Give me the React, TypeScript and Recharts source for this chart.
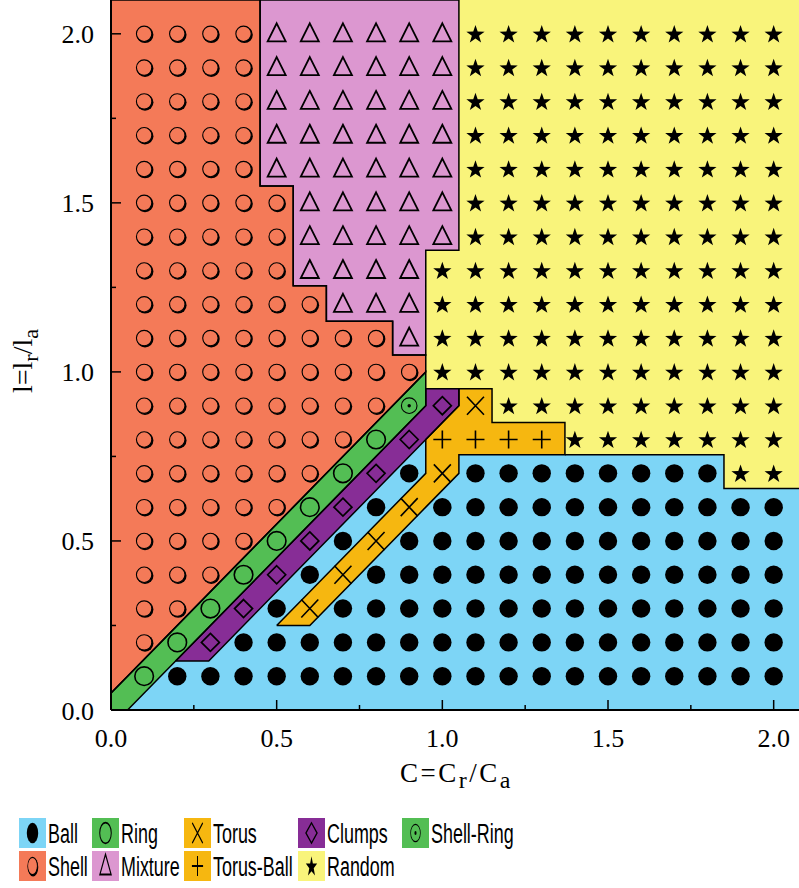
import React from 'react';
import { ComposedChart, XAxis, YAxis, Area, Line, Scatter } from 'recharts';

// ---------- data ----------
const X_VALUES = [0.1, 0.2, 0.3, 0.4, 0.5, 0.6, 0.7, 0.8, 0.9, 1.0, 1.1, 1.2, 1.3, 1.4, 1.5, 1.6, 1.7, 1.8, 1.9, 2.0];
const Y_VALUES = [2.0, 1.9, 1.8, 1.7, 1.6, 1.5, 1.4, 1.3, 1.2, 1.1, 1.0, 0.9, 0.8, 0.7, 0.6, 0.5, 0.4, 0.3, 0.2, 0.1];
// one string per row (top to bottom), one letter per C value
const PHASE_ROWS = [
  'SSSSMMMMMMRRRRRRRRRR',
  'SSSSMMMMMMRRRRRRRRRR',
  'SSSSMMMMMMRRRRRRRRRR',
  'SSSSMMMMMMRRRRRRRRRR',
  'SSSSMMMMMMRRRRRRRRRR',
  'SSSSSMMMMMRRRRRRRRRR',
  'SSSSSMMMMMRRRRRRRRRR',
  'SSSSSMMMMRRRRRRRRRRR',
  'SSSSSSMMMRRRRRRRRRRR',
  'SSSSSSSSMRRRRRRRRRRR',
  'SSSSSSSSSRRRRRRRRRRR',
  'SSSSSSSSHCTRRRRRRRRR',
  'SSSSSSSGCPPPPRRRRRRR',
  'SSSSSSGCBTBBBBBBBBRR',
  'SSSSSGCBTBBBBBBBBBBB',
  'SSSSGCBTBBBBBBBBBBBB',
  'SSSGCBTBBBBBBBBBBBBB',
  'SSGCBTBBBBBBBBBBBBBB',
  'SGCBBBBBBBBBBBBBBBBB',
  'GBBBBBBBBBBBBBBBBBBB',
];

const X_TICKS = [0, 0.25, 0.5, 0.75, 1.0, 1.25, 1.5, 1.75, 2.0];
const Y_TICKS = [0, 0.25, 0.5, 0.75, 1.0, 1.25, 1.5, 1.75, 2.0];
const X_MAX = 2.17;
const Y_MAX = 2.1;

// region boundaries (x, lower edge, upper edge)
const RANDOM_FILL = [
  { x: 0, lo: 0, hi: 2.1 },
  { x: 2.17, lo: 0, hi: 2.1 },
];
const BALL_FILL = [
  { x: 0.05, lo: 0, hi: 0 },
  { x: 0.95, lo: 0, hi: 0.9 },
  { x: 1.05, lo: 0, hi: 0.9 },
  { x: 1.05, lo: 0, hi: 0.755 },
  { x: 1.85, lo: 0, hi: 0.755 },
  { x: 1.85, lo: 0, hi: 0.655 },
  { x: 2.17, lo: 0, hi: 0.655 },
];
const BALL_RANDOM_EDGE = [
  { x: 1.37, y: 0.755 },
  { x: 1.85, y: 0.755 },
  { x: 1.85, y: 0.655 },
  { x: 2.17, y: 0.655 },
];
const TORUS_REGION = [
  { x: 0.5, lo: 0.25, hi: 0.25 },
  { x: 0.6, lo: 0.25, hi: 0.35 },
  { x: 0.95, lo: 0.6, hi: 0.7 },
  { x: 0.95, lo: 0.6, hi: 0.8 },
  { x: 1.05, lo: 0.7, hi: 0.9 },
  { x: 1.05, lo: 0.755, hi: 0.95 },
  { x: 1.15, lo: 0.755, hi: 0.95 },
  { x: 1.15, lo: 0.755, hi: 0.85 },
  { x: 1.37, lo: 0.755, hi: 0.85 },
];
const CLUMPS_REGION = [
  { x: 0.195, lo: 0.145, hi: 0.145 },
  { x: 0.295, lo: 0.145, hi: 0.245 },
  { x: 0.95, lo: 0.8, hi: 0.9 },
  { x: 0.95, lo: 0.8, hi: 0.95 },
  { x: 1.05, lo: 0.9, hi: 0.95 },
];
const RING_REGION = [
  { x: 0, lo: 0, hi: 0.05 },
  { x: 0.05, lo: 0, hi: 0.1 },
  { x: 0.95, lo: 0.9, hi: 1.0 },
];
const SHELL_REGION = [
  { x: 0, lo: 0.05, hi: 2.1 },
  { x: 0.45, lo: 0.5, hi: 2.1 },
  { x: 0.45, lo: 0.5, hi: 1.55 },
  { x: 0.55, lo: 0.6, hi: 1.55 },
  { x: 0.55, lo: 0.6, hi: 1.255 },
  { x: 0.65, lo: 0.7, hi: 1.255 },
  { x: 0.65, lo: 0.7, hi: 1.15 },
  { x: 0.85, lo: 0.9, hi: 1.15 },
  { x: 0.85, lo: 0.9, hi: 1.05 },
  { x: 0.95, lo: 1.0, hi: 1.05 },
];
const MIXTURE_REGION = [
  { x: 0.45, lo: 1.55, hi: 2.1 },
  { x: 0.55, lo: 1.55, hi: 2.1 },
  { x: 0.55, lo: 1.255, hi: 2.1 },
  { x: 0.65, lo: 1.255, hi: 2.1 },
  { x: 0.65, lo: 1.15, hi: 2.1 },
  { x: 0.85, lo: 1.15, hi: 2.1 },
  { x: 0.85, lo: 1.05, hi: 2.1 },
  { x: 0.95, lo: 1.05, hi: 2.1 },
  { x: 0.95, lo: 1.36, hi: 2.1 },
  { x: 1.05, lo: 1.36, hi: 2.1 },
];

// ---------- styles ----------
const BLUE = '#7dd5f6';
const CORAL = '#f47a58';
const PINK = '#dc97d0';
const YELLOW = '#f9f47b';
const GREEN = '#53be54';
const PURPLE = '#872d96';
const ORANGE = '#f6b710';

const PHASES = [
  { code: 'B', name: 'Ball', color: BLUE },
  { code: 'G', name: 'Ring', color: GREEN },
  { code: 'T', name: 'Torus', color: ORANGE },
  { code: 'C', name: 'Clumps', color: PURPLE },
  { code: 'H', name: 'Shell-Ring', color: GREEN },
  { code: 'S', name: 'Shell', color: CORAL },
  { code: 'M', name: 'Mixture', color: PINK },
  { code: 'P', name: 'Torus-Ball', color: ORANGE },
  { code: 'R', name: 'Random', color: YELLOW },
];

const FILLS = [
  { key: 'random', rows: RANDOM_FILL, color: YELLOW },
  { key: 'ball', rows: BALL_FILL, color: BLUE },
  { key: 'torus', rows: TORUS_REGION, color: ORANGE },
  { key: 'clumps', rows: CLUMPS_REGION, color: PURPLE },
  { key: 'ring', rows: RING_REGION, color: GREEN },
  { key: 'shell', rows: SHELL_REGION, color: CORAL },
  { key: 'mixture', rows: MIXTURE_REGION, color: PINK },
];
const OUTLINED = [TORUS_REGION, CLUMPS_REGION, RING_REGION, SHELL_REGION, MIXTURE_REGION];

function outline(rows: { x: number; lo: number; hi: number }[]) {
  const top = rows.map((r) => ({ x: r.x, y: r.hi }));
  const bottom = rows
    .slice()
    .reverse()
    .map((r) => ({ x: r.x, y: r.lo }));
  return [...top, ...bottom, top[0]];
}

function pointsFor(code: string) {
  const pts: { x: number; y: number }[] = [];
  PHASE_ROWS.forEach((row, i) => {
    row.split('').forEach((c, j) => {
      if (c === code) pts.push({ x: X_VALUES[j], y: Y_VALUES[i] });
    });
  });
  return pts;
}

function starPath(cx: number, cy: number, R: number, r: number) {
  let d = '';
  for (let i = 0; i < 10; i++) {
    const a = ((-90 + i * 36) * Math.PI) / 180;
    const rad = i % 2 === 0 ? R : r;
    d += (i === 0 ? 'M' : 'L') + (cx + rad * Math.cos(a)).toFixed(2) + ',' + (cy + rad * Math.sin(a)).toFixed(2);
  }
  return d + 'Z';
}

function Marker({ kind, cx, cy, bg }: { kind: string; cx: number; cy: number; bg?: string }) {
  switch (kind) {
    case 'B':
      return <circle cx={cx} cy={cy} r={9.2} fill="#000" />;
    case 'S':
      return (
        <g>
          <circle cx={cx + 0.9} cy={cy + 0.9} r={8.4} fill="#000" />
          <circle cx={cx} cy={cy} r={7.7} fill={bg || CORAL} stroke="#000" strokeWidth={1.1} />
        </g>
      );
    case 'G':
      return <circle cx={cx} cy={cy} r={9.3} fill="none" stroke="#000" strokeWidth={1.6} />;
    case 'H':
      return (
        <g>
          <circle cx={cx} cy={cy} r={7.8} fill="none" stroke="#000" strokeWidth={1.1} />
          <circle cx={cx} cy={cy} r={1.7} fill="#000" />
        </g>
      );
    case 'C':
      return (
        <path
          d={`M${cx},${cy - 9}L${cx + 9},${cy}L${cx},${cy + 9}L${cx - 9},${cy}Z`}
          fill="none"
          stroke="#000"
          strokeWidth={1.7}
        />
      );
    case 'T':
      return (
        <path
          d={`M${cx - 8.5},${cy - 9}L${cx + 8.5},${cy + 9}M${cx + 8.5},${cy - 9}L${cx - 8.5},${cy + 9}`}
          stroke="#000"
          strokeWidth={1.6}
          fill="none"
        />
      );
    case 'P':
      return (
        <path
          d={`M${cx - 9},${cy}L${cx + 9},${cy}M${cx},${cy - 9}L${cx},${cy + 9}`}
          stroke="#000"
          strokeWidth={1.6}
          fill="none"
        />
      );
    case 'M':
      return (
        <path
          d={`M${cx},${cy - 10.5}L${cx + 9},${cy + 7.5}L${cx - 9},${cy + 7.5}Z`}
          fill="none"
          stroke="#000"
          strokeWidth={1.8}
          strokeLinejoin="miter"
        />
      );
    case 'R':
      return <path d={starPath(cx, cy + 0.8, 9.6, 3.8)} fill="#000" />;
    default:
      return null;
  }
}

const SERIF = "'Liberation Serif', 'Times New Roman', serif";
const SANS = "'Liberation Sans', Arial, sans-serif";

function XTick(props: any) {
  const { x, y, payload } = props;
  const v = payload.value as number;
  const major = Math.abs(v * 2 - Math.round(v * 2)) < 1e-6;
  return (
    <g>
      <line x1={x} x2={x} y1={y} y2={y - (major ? 10 : 5)} stroke="#000" strokeWidth={1.5} />
      {major && (
        <text x={x} y={y + 37} textAnchor="middle" fontFamily={SERIF} fontSize={26} fill="#000">
          {v.toFixed(1)}
        </text>
      )}
    </g>
  );
}

function YTick(props: any) {
  const { x, y, payload } = props;
  const v = payload.value as number;
  const major = Math.abs(v * 2 - Math.round(v * 2)) < 1e-6;
  return (
    <g>
      <line x1={x} x2={x + (major ? 10 : 5)} y1={y} y2={y} stroke="#000" strokeWidth={1.5} />
      {major && (
        <text x={x - 17} y={y + 9.5} textAnchor="end" fontFamily={SERIF} fontSize={26} fill="#000">
          {v.toFixed(1)}
        </text>
      )}
    </g>
  );
}

const XLabel = () => (
  <text x={400} y={782} fontFamily={SERIF} fontSize={27} letterSpacing={2.5} fill="#000">
    C=C
    <tspan fontSize={24} dy={6}>r</tspan>
    <tspan dy={-6}>/C</tspan>
    <tspan fontSize={24} dy={6}>a</tspan>
  </text>
);

const YLabel = () => (
  <text x={32} y={393} transform="rotate(-90, 32, 393)" fontFamily={SERIF} fontSize={28} fill="#000">
    l=l
    <tspan fontSize={22} dy={6}>r</tspan>
    <tspan dy={-6}>/l</tspan>
    <tspan fontSize={22} dy={6}>a</tspan>
  </text>
);

const LEGEND_COLS = [19, 92, 184, 298, 402];
const LEGEND_ROWS = [18, 51];

function LegendBox() {
  return (
    <svg width={799} height={88} style={{ position: 'absolute', left: 0, top: 800 }}>
      {PHASES.map((p, i) => {
        const row = i < 5 ? 0 : 1;
        const col = i < 5 ? i : i - 5;
        const sx = LEGEND_COLS[col];
        const sy = LEGEND_ROWS[row];
        const cx = sx + 13.5;
        const cy = sy + 15;
        return (
          <g key={p.code}>
            <rect x={sx} y={sy} width={27} height={30} fill={p.color} />
            <g transform={`translate(${cx},${cy}) scale(0.62,1.12) translate(${-cx},${-cy})`}>
              <Marker kind={p.code} cx={cx} cy={cy} bg={p.color} />
            </g>
            <text
              transform={`translate(${sx + 29},${sy + 25}) scale(0.64,1)`}
              fontFamily={SANS}
              fontSize={28}
              fill="#000"
            >
              {p.name}
            </text>
          </g>
        );
      })}
    </svg>
  );
}

export default function App() {
  return (
    <div
      style={{
        position: 'absolute',
        left: 0,
        top: 0,
        width: 799,
        height: 888,
        overflow: 'hidden',
        background: '#fff',
      }}
    >
      <ComposedChart width={830} height={800} margin={{ top: 0, right: 0, bottom: 0, left: 0 }}>
        {FILLS.map((f) => (
          <Area
            key={f.key}
            data={f.rows}
            dataKey={(d: any) => [d.lo, d.hi]}
            type="linear"
            fill={f.color}
            fillOpacity={1}
            stroke="none"
            isAnimationActive={false}
            dot={false}
            activeDot={false}
          />
        ))}
        {OUTLINED.map((rows, i) => (
          <Line
            key={'o' + i}
            data={outline(rows)}
            dataKey="y"
            type="linear"
            stroke="#000"
            strokeWidth={1.5}
            dot={false}
            activeDot={false}
            isAnimationActive={false}
          />
        ))}
        <Line
          data={BALL_RANDOM_EDGE}
          dataKey="y"
          type="linear"
          stroke="#000"
          strokeWidth={1.5}
          dot={false}
          activeDot={false}
          isAnimationActive={false}
        />
        <XAxis
          type="number"
          dataKey="x"
          domain={[0, X_MAX]}
          ticks={X_TICKS}
          interval={0}
          height={90}
          tickSize={0}
          tickMargin={0}
          tickLine={false}
          tick={<XTick />}
          axisLine={{ stroke: '#000', strokeWidth: 2 }}
          allowDataOverflow
          label={{ content: () => <XLabel /> }}
        />
        <YAxis
          type="number"
          dataKey="y"
          domain={[0, Y_MAX]}
          ticks={Y_TICKS}
          interval={0}
          width={111}
          tickSize={0}
          tickMargin={0}
          tickLine={false}
          tick={<YTick />}
          axisLine={{ stroke: '#000', strokeWidth: 2 }}
          allowDataOverflow
          label={{ content: () => <YLabel /> }}
        />
        {PHASES.map((p) => (
          <Scatter
            key={'s' + p.code}
            data={pointsFor(p.code)}
            isAnimationActive={false}
            shape={(props: any) => <Marker kind={p.code} cx={props.cx} cy={props.cy} />}
          />
        ))}
      </ComposedChart>
      <LegendBox />
    </div>
  );
}
